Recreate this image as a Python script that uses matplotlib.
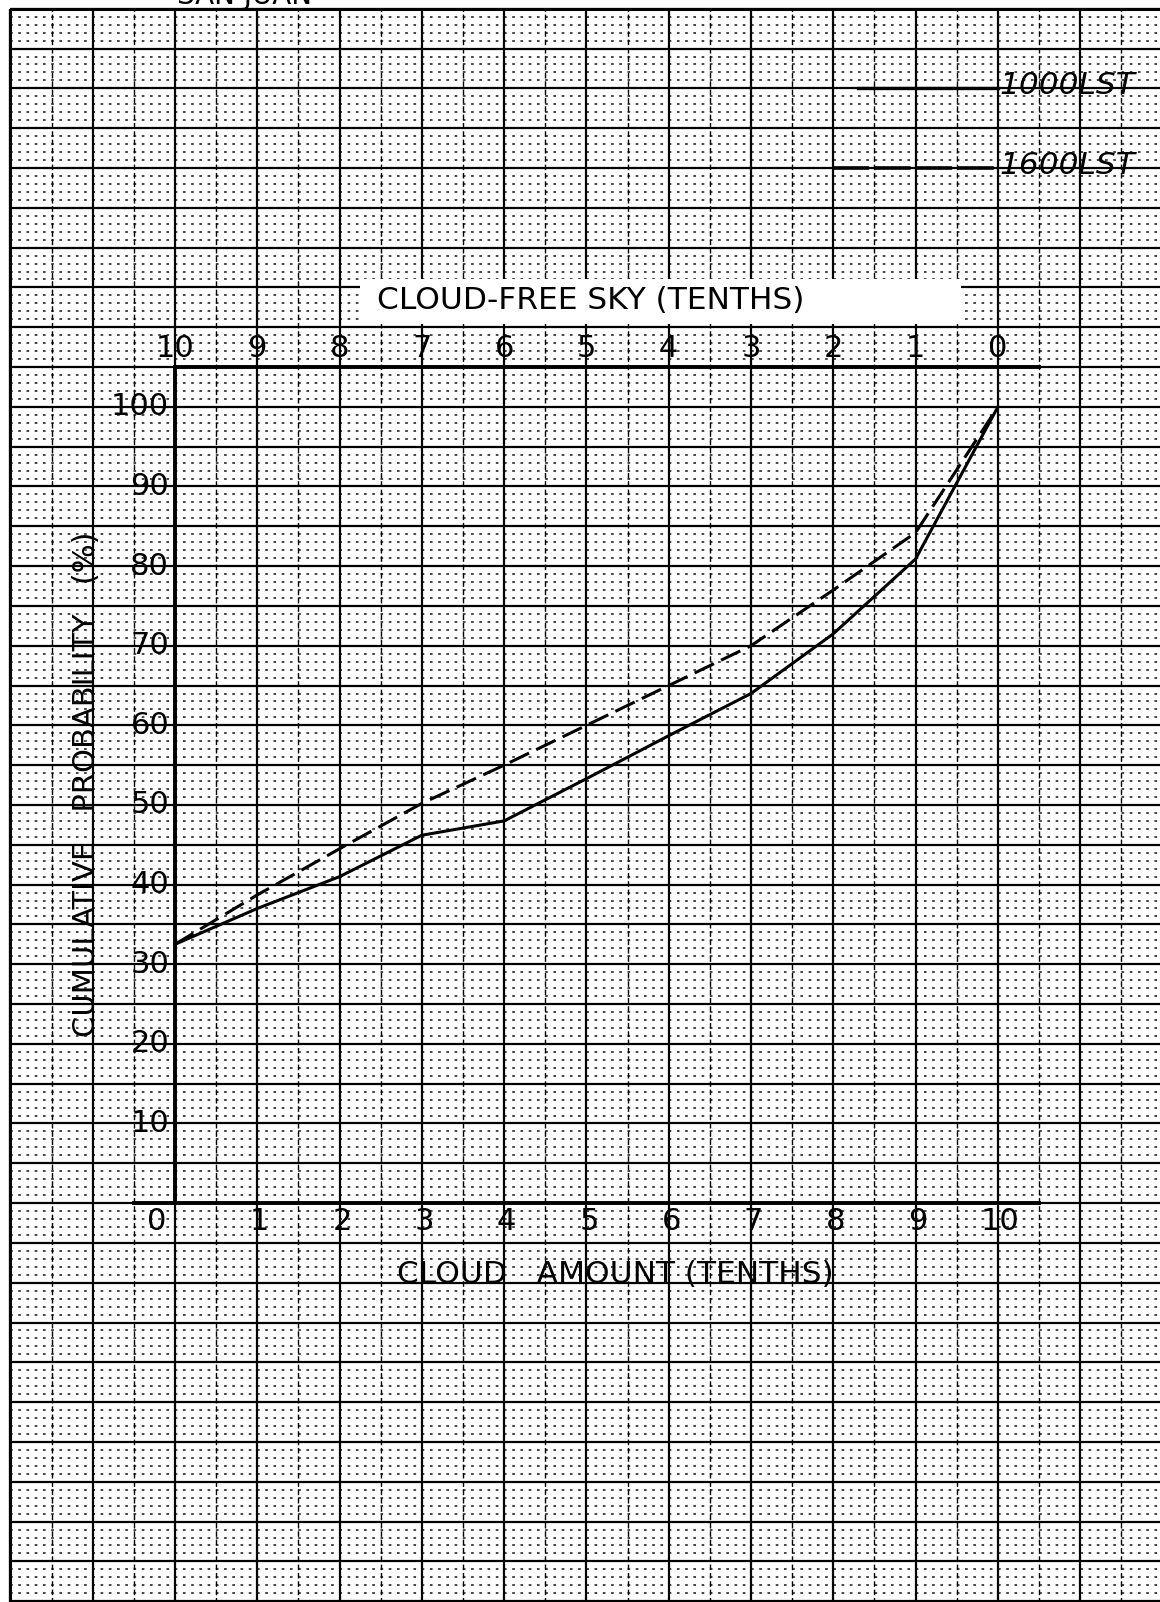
import numpy as np
import matplotlib
matplotlib.use("Agg")
import matplotlib.pyplot as plt
from matplotlib.patches import Rectangle

# cloud amount (tenths) and cumulative probability (%)
cloud_amount = [0, 1, 2, 3, 4, 5, 6, 7, 8, 9, 10]
prob_1000 = [32.5, 37, 41, 46.2, 48, 53.3, 58.7, 64, 71.5, 80.9, 100]
prob_1600 = [32.5, 38.7, 44.5, 50.2, 55, 60, 65, 70, 77, 84.2, 100]

series_names = ['1000LST', '1600LST']
y_ticks = [10, 20, 30, 40, 50, 60, 70, 80, 90, 100]
bottom_ticks = [0, 1, 2, 3, 4, 5, 6, 7, 8, 9, 10]
top_tick_labels = ['10', '9', '8', '7', '6', '5', '4', '3', '2', '1', '0']

plt.rcParams['font.family'] = ['DejaVu Sans']

fig = plt.figure(figsize=(11.6, 16.02), dpi=100)
ax = fig.add_axes([0, 0, 1, 1])
ax.axis('off')
ax.set_xlim(-2.126, 11.97)
ax.set_ylim(-50.1, 151.1)

# --- graph paper ---
xl, xr = -2.0, 12.2
yb, yt = -51, 150
ax.vlines(np.arange(-2, 12), yb, yt, color='black', lw=1.6, zorder=1)
ax.vlines(np.arange(-1.5, 12, 1.0), yb, yt, color='black', lw=1.0,
          linestyles=[(0, (4, 2))], zorder=1)
ax.hlines(np.arange(-50, 151, 5), xl, xr, color='black', lw=1.6, zorder=1)
minor = [v for v in range(-50, 150) if v % 5 != 0]
ax.hlines(minor, xl, xr, color='black', lw=1.2,
          linestyles=[(0, (1.6, 3.34))], alpha=0.85, zorder=1)
ax.hlines(150, xl, xr, color='black', lw=2.2, zorder=2)
ax.vlines(-2, yb, 150, color='black', lw=2.2, zorder=2)

# white patch behind the upper axis title
ax.add_patch(Rectangle((2.25, 110.4), 7.3, 5.7, facecolor='white',
                       edgecolor='none', zorder=3))

# --- chart frame ---
ax.plot([0, 0], [0, 105], color='black', lw=2.8, zorder=4)
ax.plot([-0.5, 10.5], [0, 0], color='black', lw=2.8, zorder=4)
ax.plot([0, 10.5], [105, 105], color='black', lw=2.8, zorder=4)

# --- curves ---
ax.plot(cloud_amount, prob_1000, color='black', lw=2.2, zorder=5)
ax.plot(cloud_amount, prob_1600, color='black', lw=2.2,
        dashes=(7, 2.6), zorder=5)

# --- legend drawn on the paper ---
ax.plot([8.3, 10.0], [140, 140], color='black', lw=2.4, zorder=5)
ax.plot([8.0, 10.0], [130, 130], color='black', lw=2.6,
        dashes=(10, 1.5), zorder=5)
for name, yy in zip(series_names, [140, 130]):
    ax.text(10.02, yy + 0.3, name, fontsize=22.5, style='italic',
            ha='left', va='center', zorder=6)

# --- tick labels ---
for v in y_ticks:
    ax.text(-0.07, v, str(v), fontsize=22, ha='right', va='center', zorder=6)

for v in bottom_ticks:
    if v == 0:
        ax.text(-0.1, -2.3, str(v), fontsize=22, ha='right', va='center', zorder=6)
    else:
        ax.text(v + 0.03, -2.3, str(v), fontsize=22, ha='center', va='center', zorder=6)

for v, lab in zip(bottom_ticks, top_tick_labels):
    ax.text(v, 107.3, lab, fontsize=22, ha='center', va='center', zorder=6)

# --- axis titles ---
ax.text(5.05, 113.4, 'CLOUD-FREE SKY (TENTHS)', fontsize=22.5,
        ha='center', va='center', zorder=6)
ax.text(5.35, -10.0, 'CLOUD   AMOUNT (TENTHS)', fontsize=22.5,
        ha='center', va='baseline', zorder=6)
ax.text(-1.07, 52.6, 'CUMULATIVE   PROBABILITY   (%)', fontsize=22,
        rotation=90, ha='center', va='center', zorder=6)

# clipped title at the very top of the page
fig.text(177 / 1160, 1 - 3.5 / 1602, 'SAN JUAN', fontsize=20,
         ha='left', va='baseline')

fig.savefig('out.png', dpi=100)
